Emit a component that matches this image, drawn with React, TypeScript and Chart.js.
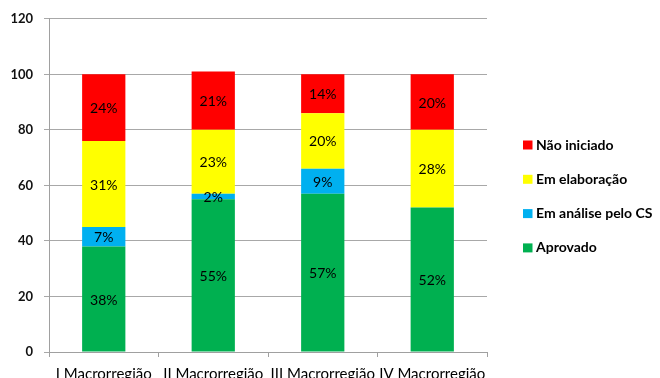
import React, { useEffect, useRef } from "react";
import { Chart, registerables } from "chart.js";

Chart.register(...registerables);

const categories = ["I Macrorregião", "II Macrorregião", "III Macrorregião", "IV Macrorregião"];
const aprovado = [38, 55, 57, 52];
const emAnalise = [7, 2, 9, 0];
const emElaboracao = [31, 23, 20, 28];
const naoIniciado = [24, 21, 14, 20];
const yTicks = [0, 20, 40, 60, 80, 100, 120];

const seriesNames = ["Aprovado", "Em análise pelo CS", "Em elaboração", "Não iniciado"];
const seriesColors = ["#00B050", "#00B0F0", "#FFFF00", "#FF0000"];

const FONT = "Lato, 'Open Sans', sans-serif";

const segmentLabels = {
  id: "segmentLabels",
  afterDatasetsDraw(chart: any) {
    const ctx = chart.ctx;
    ctx.save();
    ctx.font = `14px ${FONT}`;
    ctx.fillStyle = "#000";
    ctx.textAlign = "center";
    ctx.textBaseline = "middle";
    chart.data.datasets.forEach((ds: any, di: number) => {
      const meta = chart.getDatasetMeta(di);
      meta.data.forEach((el: any, i: number) => {
        const v = ds.data[i];
        if (!v) return;
        const { x, y, base } = el.getProps(["x", "y", "base"], true);
        ctx.fillText(`${v}%`, x, (y + base) / 2 + 1);
      });
    });
    ctx.restore();
  },
};

const sideLegend = {
  id: "sideLegend",
  afterDraw(chart: any) {
    const ctx = chart.ctx;
    ctx.save();
    ctx.font = `bold 14px ${FONT}`;
    ctx.textAlign = "left";
    ctx.textBaseline = "middle";
    const rows = [3, 2, 1, 0];
    const x0 = 523;
    const y0 = 145;
    const gap = 34.3;
    rows.forEach((di, r) => {
      const cy = y0 + r * gap;
      ctx.fillStyle = seriesColors[di];
      ctx.fillRect(x0, cy - 4.5, 9.5, 9);
      ctx.fillStyle = "#000";
      ctx.fillText(seriesNames[di], x0 + 13, cy);
    });
    ctx.restore();
  },
};

export default function App() {
  const ref = useRef<HTMLCanvasElement | null>(null);

  useEffect(() => {
    if (!ref.current) return;
    const values = [aprovado, emAnalise, emElaboracao, naoIniciado];
    const chart = new Chart(ref.current, {
      type: "bar",
      data: {
        labels: categories,
        datasets: values.map((d, i) => ({
          label: seriesNames[i],
          data: d,
          backgroundColor: seriesColors[i],
          borderWidth: 0,
          categoryPercentage: 1,
          barPercentage: 0.395,
        })),
      },
      options: {
        responsive: false,
        animation: false,
        devicePixelRatio: 1,
        layout: { padding: { top: 18, right: 173, left: 0, bottom: 0 } },
        plugins: { legend: { display: false }, tooltip: { enabled: false } },
        scales: {
          x: {
            stacked: true,
            offset: true,
            afterFit: (s: any) => {
              s.height = 40;
            },
            grid: {
              offset: true,
              drawOnChartArea: false,
              drawTicks: true,
              tickLength: 5,
              color: "#A0A0A0",
            },
            border: { color: "#A0A0A0" },
            ticks: {
              autoSkip: false,
              maxRotation: 0,
              minRotation: 0,
              padding: 8,
              color: "#000",
              font: { family: FONT, size: 15 },
            },
          },
          y: {
            stacked: true,
            min: 0,
            max: 120,
            afterFit: (s: any) => {
              s.width = 49;
            },
            afterBuildTicks: (s: any) => {
              s.ticks = yTicks.map((v) => ({ value: v }));
            },
            grid: { color: "#A8A8A8", tickLength: 5 },
            border: { color: "#A0A0A0" },
            ticks: {
              padding: 11,
              color: "#111",
              font: { family: FONT, size: 13, weight: "bold" },
            },
          },
        },
      },
      plugins: [segmentLabels, sideLegend],
    });
    return () => chart.destroy();
  }, []);

  return (
    <div style={{ position: "fixed", left: 0, top: 0, width: 660, height: 392, background: "#fff" }}>
      <canvas ref={ref} width={660} height={392} style={{ display: "block" }} />
    </div>
  );
}
